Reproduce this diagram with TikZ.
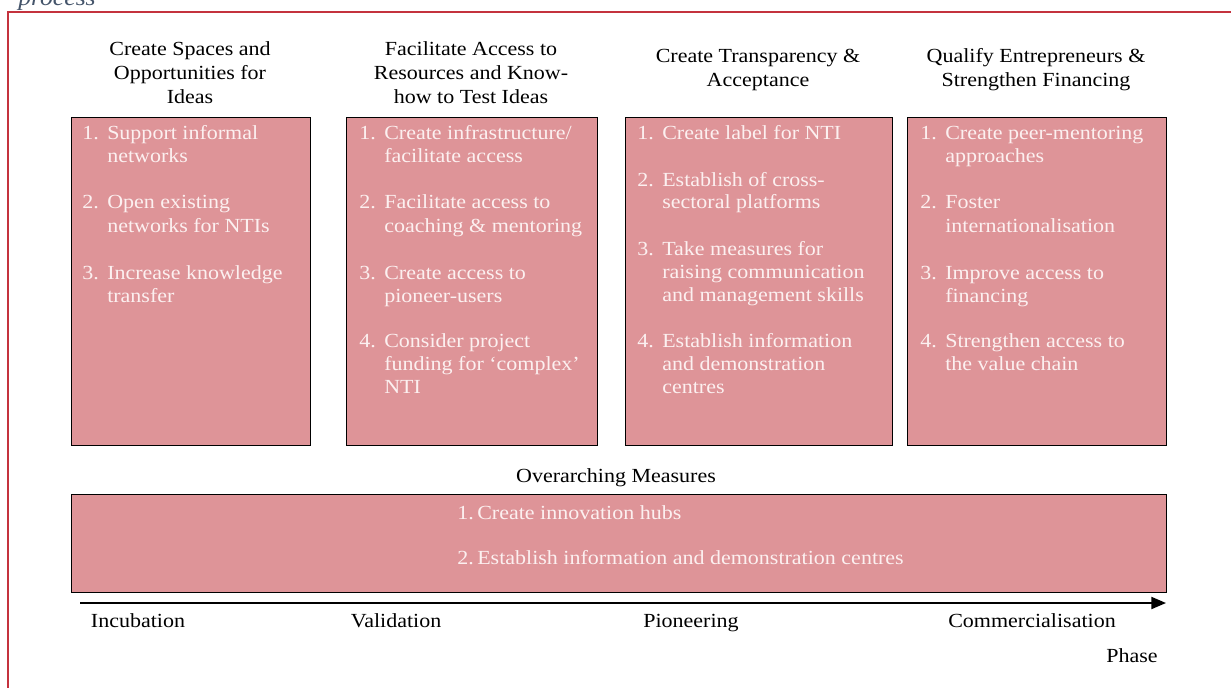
\documentclass[tikz,border=0pt]{standalone}
\usepackage{fontspec}
\setmainfont{Liberation Serif}[FakeStretch=1.1]
\usetikzlibrary{arrows.meta,calc}
\definecolor{frame}{HTML}{C4323E}
\definecolor{boxfill}{HTML}{DE9498}
\definecolor{boxtext}{HTML}{FCF0F0}
\definecolor{captxt}{HTML}{44546A}
\tikzset{
  mbox/.style={draw=black, line width=1.1pt, fill=boxfill},
  head/.style={inner sep=0pt, align=center, font=\fontsize{15}{18}\selectfont, text=black},
  itemtxt/.style={inner sep=0pt, font=\fontsize{15}{17}\selectfont, text=boxtext},
  phase/.style={inner sep=0pt, font=\fontsize{15}{17}\selectfont, text=black, anchor=base},
}
\newcommand\itm[5]{%
  \node[itemtxt, anchor=base west] (#1n) at (#2,#3) {#4};
  \foreach \l [count=\k] in {#5} {
    \node[itemtxt, anchor=base west] (#1l\k) at ({#2+25},{#3+(\k-1)*23}) {\l};
  }
}
\begin{document}
\begin{tikzpicture}[x=0.75pt,y=-0.75pt]
\useasboundingbox (0,0) rectangle (1231,688);
% frame
\node[inner sep=0pt, anchor=base west, font=\fontsize{17.5}{20}\selectfont\itshape, text=captxt] (cap) at (18,6) {process};
\draw[frame, line width=1.6pt] (8,688) -- (8,12) -- (1235,12);
% boxes
\node[mbox, minimum width=239*0.75pt, minimum height=328*0.75pt, anchor=north west, inner sep=0pt] (b1) at (71,117) {};
\node[mbox, minimum width=251*0.75pt, minimum height=328*0.75pt, anchor=north west, inner sep=0pt] (b2) at (346,117) {};
\node[mbox, minimum width=267*0.75pt, minimum height=328*0.75pt, anchor=north west, inner sep=0pt] (b3) at (625,117) {};
\node[mbox, minimum width=259*0.75pt, minimum height=328*0.75pt, anchor=north west, inner sep=0pt] (b4) at (907,117) {};
\node[mbox, minimum width=1095*0.75pt, minimum height=98*0.75pt, anchor=north west, inner sep=0pt] (bo) at (71,494) {};
% headers
\node[head, anchor=base] (h1a) at (190,56) {Create Spaces and};
\node[head, anchor=base] (h1b) at (190,80) {Opportunities for};
\node[head, anchor=base] (h1c) at (190,104) {Ideas};
\node[head, anchor=base] (h2a) at (471,56) {Facilitate Access to};
\node[head, anchor=base] (h2b) at (471,80) {Resources and Know-};
\node[head, anchor=base] (h2c) at (471,104) {how to Test Ideas};
\node[head, anchor=base] (h3a) at (758,63) {Create Transparency \&};
\node[head, anchor=base] (h3b) at (758,87) {Acceptance};
\node[head, anchor=base] (h4a) at (1036,63) {Qualify Entrepreneurs \&};
\node[head, anchor=base] (h4b) at (1036,87) {Strengthen Financing};
\node[head, anchor=base] (ho) at (616,482) {Overarching Measures};
% box 1
\itm{a1}{82}{140}{1.}{Support informal,networks}
\itm{a2}{82}{209}{2.}{Open existing,networks for NTIs}
\itm{a3}{82}{279}{3.}{Increase knowledge,transfer}
% box 2
\itm{c1}{359}{140}{1.}{Create infrastructure/,facilitate access}
\itm{c2}{359}{209}{2.}{Facilitate access to,coaching \& mentoring}
\itm{c3}{359}{279}{3.}{Create access to,pioneer-users}
\itm{c4}{359}{347}{4.}{Consider project,funding for ‘complex’,NTI}
% box 3
\itm{d1}{637}{140}{1.}{Create label for NTI}
\itm{d2}{637}{186}{2.}{Establish of cross-,sectoral platforms}
\itm{d3}{637}{255}{3.}{Take measures for,raising communication,and management skills}
\itm{d4}{637}{347}{4.}{Establish information,and demonstration,centres}
% box 4
\itm{e1}{920}{140}{1.}{Create peer-mentoring,approaches}
\itm{e2}{920}{209}{2.}{Foster,internationalisation}
\itm{e3}{920}{279}{3.}{Improve access to,financing}
\itm{e4}{920}{347}{4.}{Strengthen access to,the value chain}
% overarching
\node[itemtxt, anchor=base west] (o1n) at (457,519) {1.};
\node[itemtxt, anchor=base west] (o1) at (477,519) {Create innovation hubs};
\node[itemtxt, anchor=base west] (o2n) at (457,564) {2.};
\node[itemtxt, anchor=base west] (o2) at (477,564) {Establish information and demonstration centres};
% phase axis
\coordinate (axs) at (80,603);
\coordinate (axe) at (1166,603);
\draw[line width=1.5pt, -{Triangle[length=11pt,width=9pt]}] (axs) -- (axe);
\node[phase] (p1) at (138,627) {Incubation};
\node[phase] (p2) at (396,627) {Validation};
\node[phase] (p3) at (691,627) {Pioneering};
\node[phase] (p4) at (1032,627) {Commercialisation};
\node[phase] (p5) at (1132,662) {Phase};
\end{tikzpicture}
\end{document}
